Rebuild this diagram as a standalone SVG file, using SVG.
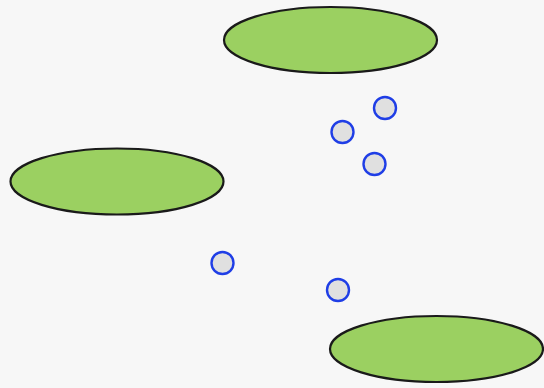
<svg xmlns="http://www.w3.org/2000/svg" width="544" height="388" viewBox="0 0 544 388">
<style>
.big{fill:#9bd061;stroke:#1a1a1a;stroke-width:2.2}
.dot{fill:#e0e0e0;stroke:#1f3ee6;stroke-width:2.4}
</style>
<rect width="544" height="388" fill="#f7f7f7"/>
<g id="connectors"></g>
<g id="n1"><ellipse class="big" cx="330.5" cy="40" rx="106.5" ry="33"/></g>
<g id="n2"><ellipse class="big" cx="117" cy="181.5" rx="106.5" ry="33"/></g>
<g id="n3"><ellipse class="big" cx="436.5" cy="349" rx="106.5" ry="33"/></g>
<g id="p1"><circle class="dot" cx="385" cy="108" r="11"/></g>
<g id="p2"><circle class="dot" cx="342.5" cy="132" r="11"/></g>
<g id="p3"><circle class="dot" cx="374.5" cy="164" r="11"/></g>
<g id="p4"><circle class="dot" cx="222.5" cy="263" r="11"/></g>
<g id="p5"><circle class="dot" cx="338" cy="290" r="11"/></g>
</svg>
